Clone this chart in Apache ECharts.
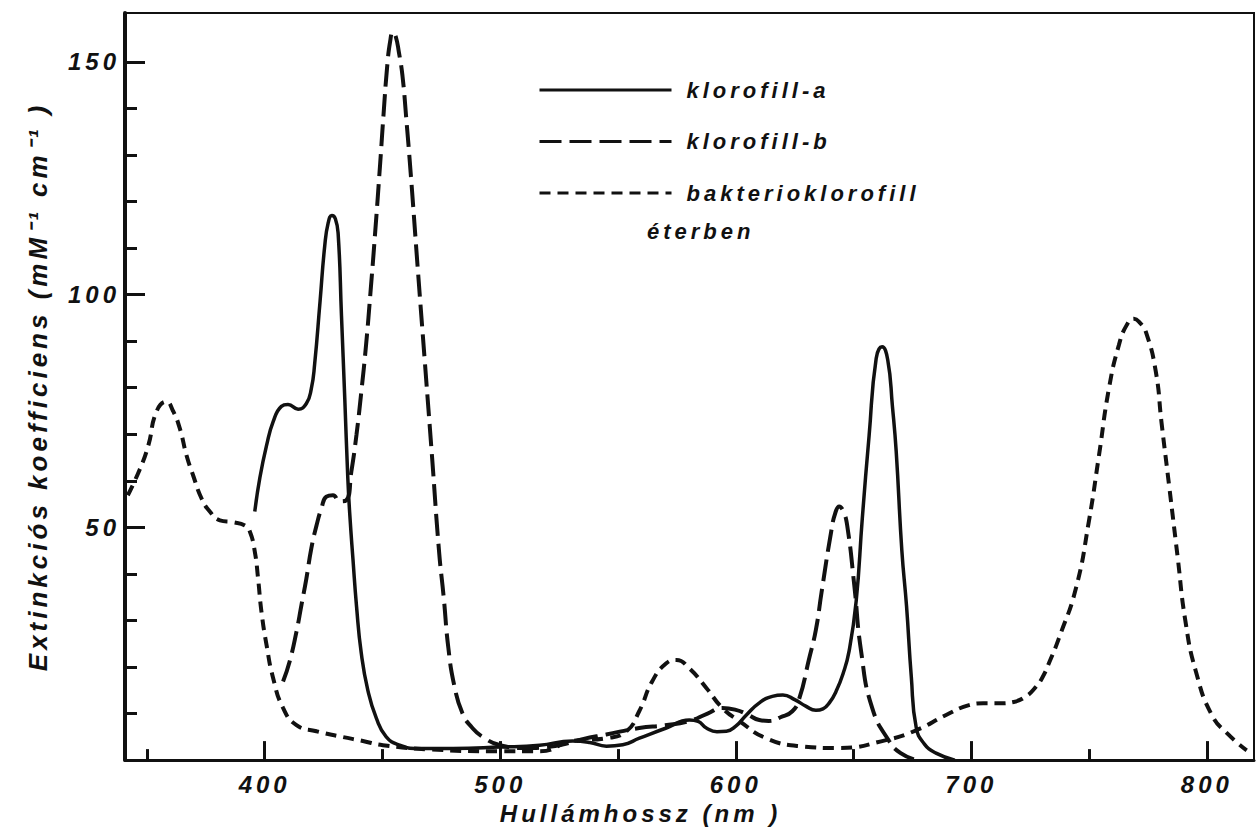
<!doctype html>
<html lang="hu">
<head>
    <meta charset="UTF-8">
    <title>Klorofill abszorpciós spektrumok</title>
    <script type="text/javascript" src="https://cdn.jsdelivr.net/npm/echarts@6/dist/echarts.min.js"></script>
    <style>
        html, body { margin: 0; padding: 0; background: #fff; }
        #chart { width: 1256px; height: 830px; }
        #chart text { letter-spacing: 4px; }
    </style>
</head>
<body>
<div id="chart"></div>
<script>
    // klorofill-a (nm / extinkció)
    var chlaNm = [395.8, 397.9, 400.8, 403.6, 407.1, 409.9, 414.2, 417.7, 419.8, 421.2, 423.5, 425.5, 427, 428.5, 430,
        431.2, 432.6, 434, 435.3, 436.1, 437.5, 439, 441, 443.8, 447.4, 451.6, 457.3, 465, 480, 500, 516.7, 530.7,
        538, 545.1, 552, 559.1, 570.5, 580.3, 584, 587.5, 592, 596, 600, 604.5, 610, 615.5, 620, 625, 629.7, 634, 637,
        640, 642.6, 645.5, 648.1, 651.1, 653.7, 656.6, 659.6, 662.1, 664.5, 666.5, 668.1, 670.5, 672.5, 674.5, 676.6,
        680, 685, 693];
    var chlaVal = [53.4, 60.5, 67.6, 72.7, 76, 76.4, 75.4, 76.6, 79.8, 85, 98.5, 110.5, 115.5, 117, 116.3,
        113, 95.5, 77.7, 60.5, 53, 43, 33, 23, 15, 9, 5, 3.2, 2.5, 2.5, 2.8, 3.2, 4.1,
        3.8, 3.0, 3.3, 4.7, 6.9, 8.6, 8.3, 6.9, 6.1, 6.2, 7.3, 9.7, 12.3, 13.7, 14, 13, 11.6, 10.7, 11,
        12.5, 14.8, 18.5, 23.4, 34.1, 51.9, 69.7, 86.3, 88.8, 86, 76, 66.3, 45, 33, 18, 7,
        3.5, 1.5, 0];

    // klorofill-b
    var chlbNm = [407.8, 410.6, 413.5, 415.6, 417.7, 419.8, 422, 424.1, 426.2, 429, 431.8, 434.6, 436.8, 439, 441,
        443, 445, 447, 449, 450.5, 452, 453.3, 454.4, 455.6, 457, 458.5, 460, 462, 465, 468, 471, 474, 476, 478, 480.5,
        484, 488, 492.5, 500, 510, 520, 530, 535, 545, 559, 570, 580.3, 588, 594.3, 600, 605, 610, 614, 619, 624, 627,
        631, 634, 636.4, 640.5, 642.2, 643.9, 645.6, 647.3, 650.3, 653.2, 657.9, 665.1, 670, 676.6];
    var chlbVal = [16.9, 21.2, 27.6, 33.3, 39, 45.5, 50.4, 54.1, 56.6, 56.9, 55.6, 55.8, 62, 70, 79,
        89, 101, 114, 128, 139, 149, 154.5, 156.4, 155.5, 152, 147, 138.5, 126, 105.5, 85.5, 65.5, 45, 35, 24, 16,
        10, 7, 5, 3.2, 2.6, 2.8, 3.8, 4.5, 5.5, 6.9, 7.5, 8.4, 10, 11.2, 10.8, 9.8, 8.6, 8.4, 9.2, 10.5, 13.3,
        21.5, 28, 36, 49.1, 53, 54.5, 53.5, 50.4, 37.6, 23.4, 11.2, 4.1, 1.5, 0];

    // bakterioklorofill
    var bchlNm = [341.9, 347, 350.6, 354.1, 358.3, 361.1, 364, 366.8, 369.6, 373.2, 376.7, 381, 386.6, 391.6, 393.7,
        395.8, 397.2, 398.6, 400.8, 403.6, 407.8, 413.5, 422, 431.8, 441.7, 450.2, 470, 500, 516.7, 530.7, 545, 553.6,
        559, 564.6, 570.5, 574.8, 580.3, 587.5, 594.3, 601.5, 612.9, 627, 643.9, 663.8, 676.6, 689.3, 699, 705, 711.7,
        718, 723.2, 727, 730, 733.5, 737.2, 744.4, 749.9, 754.2, 758.4, 762.6, 766, 769, 771.5, 774.1, 778.3, 780.7,
        784.1, 787.5, 790.9, 795.3, 802.1, 809.3, 816.9];
    var bchlVal = [56.9, 62.5, 67.6, 74.9, 77, 75, 71.2, 65.5, 61.2, 56.2, 53.4, 51.5, 51.1, 50.4, 49.1,
        44.8, 39, 32, 24.7, 17.6, 11.2, 7.5, 6.2, 5.1, 4.1, 3.2, 2.3, 1.9, 1.9, 4.1, 4.7, 6.2,
        10.5, 17, 20.8, 21.5, 19.7, 15.5, 11.2, 8.4, 4.7, 3.0, 2.6, 4.3, 6.4, 9.7, 11.8, 12.2, 12.2,
        12.5, 13.7, 15.5, 17.6, 21.5, 26.2, 36.9, 51.3, 65.5, 79.8, 89.1, 93.5, 94.8, 94, 92, 83.5, 72.7,
        58.4, 44, 29.8, 19.1, 9.7, 5.4, 2.1];

    // tengely osztások
    var xMajorTicks = [400, 500, 600, 700, 800];
    var xMinorTicks = [350, 400, 450, 500, 550, 600, 650, 700, 750, 800];
    var yMajorTicks = [50, 100, 150];
    var yMinorTicks = [10, 20, 30, 40, 50, 60, 70, 80, 90, 100, 110, 120, 130, 140, 150];

    var ink = '#111';
    var font = 'Liberation Sans, Arial, sans-serif';
    var weight = 'bold';

    function pairs(xs, ys) {
        return xs.map(function (x, i) { return [x, ys[i]]; });
    }

    function line_series(name, xs, ys, width, dash) {
        return {
            name: name,
            type: 'line',
            xAxisIndex: 0,
            yAxisIndex: 0,
            data: pairs(xs, ys),
            symbol: 'none',
            smooth: 0.5,
            lineStyle: { color: ink, width: width, type: dash },
            itemStyle: { color: ink }
        };
    }

    var chart = echarts.init(document.getElementById('chart'), null, { renderer: 'svg' });
    chart.setOption({
        animation: false,
        backgroundColor: '#fff',
        grid: {
            left: 125, top: 13, right: 2, bottom: 68,
            show: true, borderColor: ink, borderWidth: 2
        },
        legend: {
            orient: 'vertical',
            left: 533,
            top: 73,
            itemWidth: 132,
            itemHeight: 24,
            itemGap: 27.5,
            selectedMode: false,
            itemStyle: { opacity: 0 },
            lineStyle: { width: 3 },
            textStyle: {
                fontFamily: font, fontSize: 22, fontStyle: 'italic', fontWeight: weight, color: ink,
                lineHeight: 24, padding: [0, 0, 0, 10]
            },
            data: ['klorofill-a', 'klorofill-b', 'bakterioklorofill']
        },
        graphic: [{
            type: 'text',
            left: 647,
            top: 220,
            style: {
                text: 'éterben',
                fontFamily: font, fontSize: 22, fontStyle: 'italic', fontWeight: weight, fill: ink
            }
        }],
        xAxis: [{
            type: 'value',
            min: 340.7,
            max: 820,
            position: 'bottom',
            name: 'Hullámhossz (nm )',
            nameLocation: 'middle',
            nameGap: 40,
            nameTextStyle: {
                fontFamily: font, fontSize: 24, fontStyle: 'italic', fontWeight: weight, color: ink,
                padding: [0, 98, 0, 0]
            },
            axisLine: { show: true, onZero: false, lineStyle: { color: ink, width: 3 } },
            axisTick: { show: true, inside: true, length: 19, customValues: xMajorTicks, lineStyle: { color: ink, width: 3 } },
            axisLabel: {
                customValues: xMajorTicks, margin: 12,
                fontFamily: font, fontSize: 24, fontStyle: 'italic', fontWeight: weight, color: ink
            },
            splitLine: { show: false }
        }, {
            type: 'value',
            min: 340.7,
            max: 820,
            position: 'bottom',
            axisLine: { show: false, onZero: false },
            axisTick: { show: true, inside: true, length: 11, customValues: xMinorTicks, lineStyle: { color: ink, width: 3 } },
            axisLabel: { show: false },
            splitLine: { show: false }
        }],
        yAxis: [{
            type: 'value',
            min: 0,
            max: 160.5,
            position: 'left',
            name: 'Extinkciós koefficiens (mM⁻¹ cm⁻¹ )',
            nameLocation: 'middle',
            nameGap: 74,
            nameTextStyle: { fontFamily: font, fontSize: 26, fontStyle: 'italic', fontWeight: weight, color: ink },
            axisLine: { show: true, onZero: false, lineStyle: { color: ink, width: 4 } },
            axisTick: { show: true, inside: true, length: 20, customValues: yMajorTicks, lineStyle: { color: ink, width: 3 } },
            axisLabel: {
                customValues: yMajorTicks, margin: 5,
                fontFamily: font, fontSize: 24, fontStyle: 'italic', fontWeight: weight, color: ink
            },
            splitLine: { show: false }
        }, {
            type: 'value',
            min: 0,
            max: 160.5,
            position: 'left',
            axisLine: { show: false, onZero: false },
            axisTick: { show: true, inside: true, length: 12, customValues: yMinorTicks, lineStyle: { color: ink, width: 3 } },
            axisLabel: { show: false },
            splitLine: { show: false }
        }],
        series: [
            line_series('klorofill-a', chlaNm, chlaVal, 3.5, 'solid'),
            line_series('klorofill-b', chlbNm, chlbVal, 4, [22, 8]),
            line_series('bakterioklorofill', bchlNm, bchlVal, 4, [11, 7])
        ]
    });
</script>
</body>
</html>
